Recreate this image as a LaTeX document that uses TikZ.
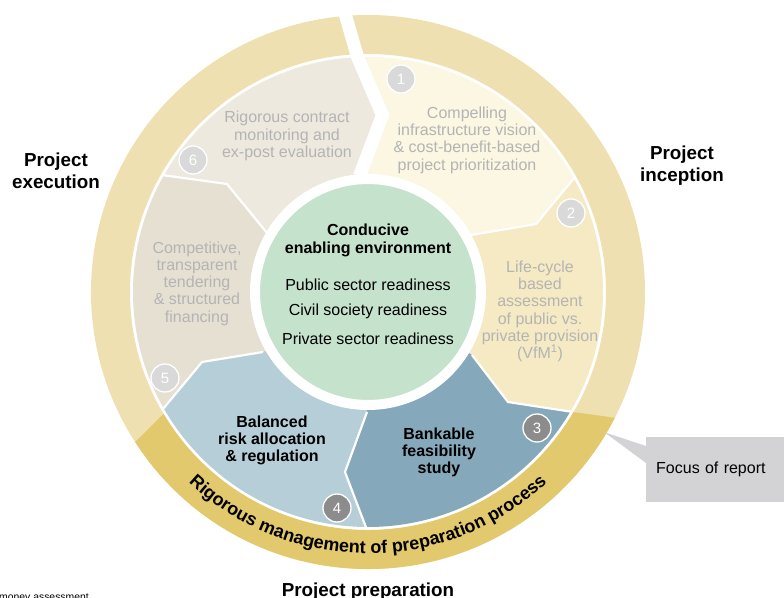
\documentclass[tikz,border=0pt]{standalone}
\usepackage{fontspec}
\setmainfont{Liberation Sans}
\usetikzlibrary{decorations.text}

\definecolor{ringgold}{HTML}{EEE0B1}
\definecolor{bandgold}{HTML}{E3C96E}
\definecolor{segA}{HTML}{FBF7E2}
\definecolor{segB}{HTML}{F5EAC3}
\definecolor{segC}{HTML}{85A9BB}
\definecolor{segD}{HTML}{B6CED8}
\definecolor{segE}{HTML}{E6E0D3}
\definecolor{segF}{HTML}{EDE9DF}
\definecolor{coregreen}{HTML}{C5E2CC}
\definecolor{fadedtext}{HTML}{B4B4B4}
\definecolor{badgelight}{HTML}{D9D9D9}
\definecolor{badgedark}{HTML}{8C8C8C}
\definecolor{calloutgrey}{HTML}{D3D3D5}

\begin{document}
\begin{tikzpicture}[x=1pt,y=1pt,
  segtext/.style={align=center, text=fadedtext, inner sep=0pt,
    font=\fontsize{16}{17.3}\selectfont},
  keytext/.style={align=center, text=black, inner sep=0pt,
    font=\bfseries\fontsize{16}{17}\selectfont},
  coretext/.style={align=center, text=black, inner sep=0pt,
    font=\fontsize{16}{18}\selectfont},
  phase/.style={align=center, text=black, inner sep=0pt,
    font=\bfseries\fontsize{18.8}{21.5}\selectfont},
  badge/.style={circle, minimum size=28pt, inner sep=0pt, draw=white,
    line width=1.3pt, text=white, font=\fontsize{15}{15}\selectfont},
  sepline/.style={draw=white, line width=2.2pt, line join=miter},
]
\useasboundingbox (-368,292) rectangle (416,-305);

% outer phase ring and the highlighted preparation band
\fill[ringgold, even odd rule] (0,0) circle[radius=277] (0,0) circle[radius=238];
\fill[bandgold] (212.8:277) arc[start angle=212.8, end angle=333, radius=277]
  -- (329.7:238) arc[start angle=329.7, end angle=210.8, radius=238] -- cycle;

% segment boundaries (inner kink -> outer rim -> far point)
\coordinate (o) at (0,0);
\coordinate (a1) at (-8.5,116);  \coordinate (a2) at (14.5,177);
\coordinate (a3) at (-10.5,235); \coordinate (a4) at (-22,275);
\coordinate (a5) at (-30,320);   \coordinate (a6) at (-28,300);
\coordinate (b1) at (103,57);    \coordinate (b2) at (168,68);
\coordinate (b3) at (207,115);   \coordinate (b4) at (350,194);
\coordinate (c1) at (104,-63);   \coordinate (c2) at (140,-110);
\coordinate (c3) at (205,-120);  \coordinate (c4) at (346,-202);
\coordinate (d1) at (-1,-120);   \coordinate (d2) at (-23,-180);
\coordinate (d3) at (-1,-238);   \coordinate (d4) at (-1,-400);
\coordinate (e1) at (-105,-60);  \coordinate (e2) at (-166,-70);
\coordinate (e3) at (-205,-117); \coordinate (e4) at (-347,-198);
\coordinate (f1) at (-101,59);   \coordinate (f2) at (-141,108);
\coordinate (f3) at (-206,117);  \coordinate (f4) at (-348,198);

\begin{scope}
  \clip (o) circle[radius=235];
  \fill[segA] (o) -- (a1) -- (a2) -- (a3) -- (a5) -- (200,400) -- (b4) -- (b3) -- (b2) -- (b1) -- cycle;
  \fill[segB] (o) -- (b1) -- (b2) -- (b3) -- (b4) -- (450,0) -- (c4) -- (c3) -- (c2) -- (c1) -- cycle;
  \fill[segC] (o) -- (c1) -- (c2) -- (c3) -- (c4) -- (250,-400) -- (d4) -- (d3) -- (d2) -- (d1) -- cycle;
  \fill[segD] (o) -- (d1) -- (d2) -- (d3) -- (d4) -- (-250,-400) -- (e4) -- (e3) -- (e2) -- (e1) -- cycle;
  \fill[segE] (o) -- (e1) -- (e2) -- (e3) -- (e4) -- (-450,0) -- (f4) -- (f3) -- (f2) -- (f1) -- cycle;
  \fill[segF] (o) -- (f1) -- (f2) -- (f3) -- (f4) -- (-250,400) -- (a5) -- (a3) -- (a2) -- (a1) -- cycle;
  \draw[sepline] (b1) -- (b2) -- (b3) -- (b4);
  \draw[sepline] (c1) -- (c2) -- (c3) -- (c4);
  \draw[sepline] (d1) -- (d2) -- (d3) -- (d4);
  \draw[sepline] (e1) -- (e2) -- (e3) -- (e4);
  \draw[sepline] (f1) -- (f2) -- (f3) -- (f4);
\end{scope}

% cycle break between evaluation and inception
\draw[white, line width=13pt, line join=miter] (a1) -- (a2) -- (a3) -- (a4) -- (a6);

% enabling-environment core
\node[circle, fill=coregreen, draw=white, line width=10pt, minimum size=226pt, inner sep=0pt] (core) at (o) {};
\node[keytext, font=\bfseries\fontsize{16}{18}\selectfont] (coretitle) at (0,52) {Conducive\\enabling environment};
\node[coretext] (public) at (0,7) {Public sector readiness};
\node[coretext] (civil) at (0,-19.5) {Civil society readiness};
\node[coretext] (private) at (0,-46.5) {Private sector readiness};

% segment labels
\node[segtext] (t1) at (99,152) {Compelling\\infrastructure vision\\\& cost-benefit-based\\project prioritization};
\node[segtext] (t2) at (172,-19.5) {Life-cycle\\based\\assessment\\of public vs.\\private provision\\(VfM\textsuperscript{1})};
\node[keytext] (t3) at (71,-160) {Bankable\\feasibility\\study};
\node[keytext] (t4) at (-96,-148) {Balanced\\risk allocation\\\& regulation};
\node[segtext] (t5) at (-171,8.5) {Competitive,\\transparent\\tendering\\\& structured\\financing};
\node[segtext] (t6) at (-81,156) {Rigorous contract\\monitoring and\\ex-post evaluation};

% step numbers
\node[badge, fill=badgelight] (n1) at (33,213) {1};
\node[badge, fill=badgelight] (n2) at (203,79) {2};
\node[badge, fill=badgedark] (n3) at (169,-136) {3};
\node[badge, fill=badgedark] (n4) at (-31,-216) {4};
\node[badge, fill=badgelight] (n5) at (-203,-86) {5};
\node[badge, fill=badgelight] (n6) at (-175,132) {6};

% text along the preparation band
\path[decorate, decoration={text along path, text align=center,
  text={|\bfseries\fontsize{18}{18}\selectfont|Rigorous management of preparation process}}]
  (200:261.5) arc[start angle=200, end angle=340, radius=261.5];

% phase titles
\node[phase] (execution) at (-312,121) {Project\\execution};
\node[phase] (inception) at (314,126.5) {Project\\inception};
\node[phase, anchor=base] (preparation) at (0,-304) {Project preparation};

% callout
\node[fill=calloutgrey, anchor=north west, minimum height=65pt, text width=130pt,
  inner xsep=10pt, inner ysep=0pt, align=left, font=\fontsize{16}{18}\selectfont] (focus) at (278,-145) {Focus of report};
\coordinate (tip) at (236,-140);
\fill[calloutgrey] (tip) -- ([yshift=-9pt]focus.north west) -- ([yshift=-26pt]focus.north west) -- cycle;

% footnote
\node[anchor=base west, inner sep=0pt, font=\fontsize{10.4}{12}\selectfont] (footnote) at (-369,-308) {money assessment};
\end{tikzpicture}
\end{document}
